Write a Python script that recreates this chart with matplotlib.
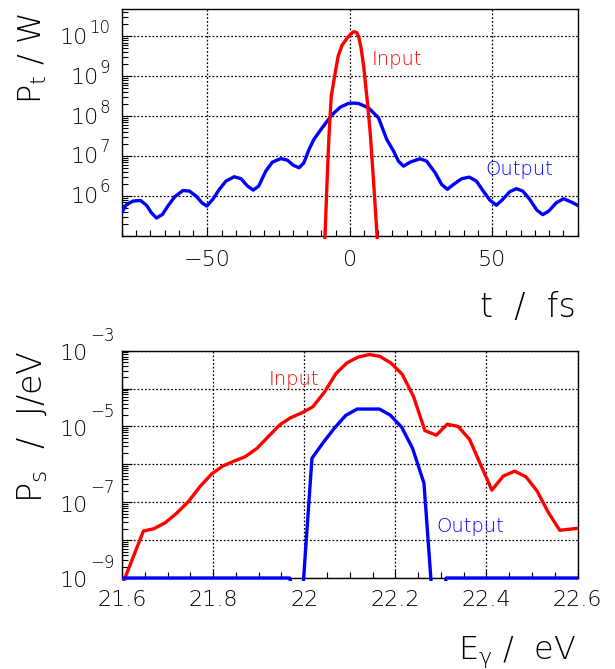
"""Input vs output pulse: temporal power and spectral density (log scale)."""
import numpy as np
import matplotlib
matplotlib.use("Agg")
import matplotlib.pyplot as plt
from matplotlib.patches import Rectangle
from matplotlib.ticker import FuncFormatter, LogLocator, MultipleLocator, NullFormatter
from matplotlib.transforms import ScaledTranslation

FONT = "DejaVu Sans"
WEIGHT = 250
RED = "#ff0000"
BLUE = "#0000ff"

# time domain: t in fs, log10 of power in W
T_OUT = [-80.0, -78.4, -76.1, -73.5, -71.4, -69.7, -67.9, -65.8, -63.9, -61.5,
         -58.6, -56.3, -54.0, -51.9, -50.2, -48.1, -45.8, -43.5, -40.6, -38.2,
         -35.9, -33.9, -32.0, -29.5, -27.2, -24.2, -21.9, -19.9, -17.8, -16.1,
         -14.3, -12.6, -9.7, -6.2, -3.3, -0.5, 1.5, 3.1, 6.6, 10.1,
         13.0, 15.4, 17.1, 18.9, 21.2, 24.7, 27.0, 30.0, 32.3, 34.3,
         36.4, 39.3, 42.0, 44.5, 46.9, 49.2, 51.5, 53.8, 56.2, 58.5,
         60.8, 63.2, 65.7, 67.8, 69.9, 72.5, 75.1, 78.3, 80.0]
LOGP_OUT = [5.60, 5.79, 5.875, 5.89, 5.77, 5.585, 5.45, 5.54, 5.75, 5.98,
            6.14, 6.125, 6.00, 5.83, 5.75, 5.92, 6.17, 6.375, 6.485, 6.435,
            6.25, 6.15, 6.25, 6.625, 6.85, 6.94, 6.90, 6.775, 6.71, 6.835,
            7.17, 7.42, 7.71, 8.04, 8.23, 8.32, 8.33, 8.32, 8.21, 7.96,
            7.42, 7.125, 6.875, 6.75, 6.85, 6.935, 6.875, 6.585, 6.29, 6.17,
            6.29, 6.435, 6.475, 6.375, 6.125, 5.90, 5.77, 5.92, 6.11, 6.185,
            6.125, 5.92, 5.65, 5.535, 5.625, 5.83, 5.935, 5.835, 5.77]
T_IN = [-9.0, -8.7, -8.0, -7.3, -6.5, -5.2, -4.1, -2.7, -1.0, 0.5,
        1.4, 2.4, 3.1, 4.0, 4.9, 6.1, 7.2, 8.4, 9.6, 10.0]
LOGP_IN = [4.5, 5.0, 6.3, 7.5, 8.5, 9.05, 9.5, 9.78, 9.95, 10.07,
           10.12, 10.1, 10.0, 9.7, 9.25, 8.42, 7.58, 6.33, 5.0, 4.5]

# spectral domain: photon energy in eV, log10 of J/eV
E_IN = [21.600, 21.647, 21.670, 21.695, 21.720, 21.746, 21.771, 21.797, 21.822, 21.847,
        21.870, 21.896, 21.921, 21.946, 21.970, 21.995, 22.019, 22.044, 22.070, 22.094,
        22.118, 22.143, 22.166, 22.190, 22.215, 22.240, 22.265, 22.290, 22.314, 22.338,
        22.363, 22.387, 22.412, 22.437, 22.462, 22.487, 22.511, 22.536, 22.561, 22.600]
LOGS_IN = [-9.20, -7.76, -7.70, -7.54, -7.29, -6.98, -6.59, -6.25, -6.04, -5.91,
           -5.80, -5.58, -5.27, -4.96, -4.77, -4.64, -4.48, -4.10, -3.60, -3.32,
           -3.17, -3.10, -3.15, -3.32, -3.62, -4.21, -5.11, -5.23, -4.94, -5.00,
           -5.34, -6.00, -6.68, -6.31, -6.18, -6.33, -6.70, -7.27, -7.74, -7.69]
E_OUT = [21.600, 21.968, 21.993, 22.017, 22.042, 22.066, 22.091, 22.116, 22.140,
         22.165, 22.189, 22.214, 22.238, 22.263, 22.287, 22.312, 22.600]
LOGS_OUT = [-9.0, -9.0, -10.0, -5.84, -5.42, -5.05, -4.71, -4.54, -4.54,
            -4.54, -4.70, -5.02, -5.58, -6.50, -10.5, -9.0, -9.0]

TOP_EXPONENTS = [6, 7, 8, 9, 10]
BOTTOM_EXPONENTS = [-3, -5, -7, -9]

plt.rcParams.update({
    "font.family": FONT,
    "font.weight": WEIGHT,
    "mathtext.fontset": "dejavusans",
})

W_PX, H_PX = 615, 669
fig = plt.figure(figsize=(W_PX / 100, H_PX / 100), dpi=100)


def px_box(left, top, right, bottom):
    return [left / W_PX, 1 - bottom / H_PX, (right - left) / W_PX, (bottom - top) / H_PX]


def style(ax, xmajor, xminor, xpad):
    ax.set_yscale("log")
    ax.yaxis.set_major_locator(LogLocator(base=10, numticks=30))
    ax.yaxis.set_minor_locator(LogLocator(base=10, subs=np.arange(2, 10), numticks=300))
    ax.yaxis.set_minor_formatter(NullFormatter())
    ax.xaxis.set_major_locator(MultipleLocator(xmajor))
    ax.xaxis.set_minor_locator(MultipleLocator(xminor))
    ax.tick_params(which="both", direction="in", top=False, right=False, width=0.8)
    ax.tick_params(axis="y", which="major", length=7.2, labelleft=False)
    ax.tick_params(axis="y", which="minor", length=4.5)
    ax.tick_params(axis="x", which="major", length=6, labelsize=16, pad=xpad)
    ax.tick_params(axis="x", which="minor", length=4)
    ax.grid(True, which="major", color="black", linestyle=(0, (1.4, 1.6)), linewidth=0.9)
    for s in ax.spines.values():
        s.set_linewidth(1.0)


def draw(ax, x, logy, color):
    line, = ax.plot(x, 10.0 ** np.asarray(logy), color=color, lw=2.4, zorder=3,
                    solid_joinstyle="round")
    # let the curve sit on the lower frame line instead of being half cut
    line.set_clip_path(Rectangle((0, -0.012), 1, 1.012, transform=ax.transAxes))


def decade_labels(ax, exps, exp_right, gap, base_dy, exp_dy):
    r = fig.canvas.get_renderer()
    ytr = ax.get_yaxis_transform()
    ax_left = ax.transAxes.transform((0, 0))[0]
    for k in exps:
        et = ax.text(0, 10.0 ** k, str(k).replace("-", "\u2212"),
                     transform=ytr + ScaledTranslation(-exp_right / 100, exp_dy / 100, fig.dpi_scale_trans),
                     ha="right", va="baseline", fontsize=12, clip_on=False)
        x0 = et.get_window_extent(r).x0
        dx = x0 - gap - ax_left
        ax.text(0, 10.0 ** k, "10",
                transform=ytr + ScaledTranslation(dx / 100, base_dy / 100, fig.dpi_scale_trans),
                ha="right", va="baseline", fontsize=16, clip_on=False)


# ---- top: temporal power ----
ax1 = fig.add_axes(px_box(122, 9.3, 577.5, 236))
style(ax1, 50, 5, 10)
draw(ax1, T_OUT, LOGP_OUT, BLUE)
draw(ax1, T_IN, LOGP_IN, RED)
ax1.set_xlim(-80, 80)
ax1.set_ylim(1e5, 10 ** 10.68)
ax1.text(7.7, 10 ** 9.29, "Input", color=RED, fontsize=14)
ax1.text(47.8, 10 ** 6.525, "Output", color=BLUE, fontsize=14)
decade_labels(ax1, TOP_EXPONENTS, exp_right=12, gap=1, base_dy=-7.3, exp_dy=3.7)

# ---- bottom: spectral density ----
ax2 = fig.add_axes(px_box(122, 350.7, 577.5, 578))
style(ax2, 0.2, 0.05, 8.6)
draw(ax2, E_IN, LOGS_IN, RED)
draw(ax2, E_OUT, LOGS_OUT, BLUE)
ax2.set_xlim(21.6, 22.6)
ax2.set_ylim(1e-9, 1e-3)
ax2.xaxis.set_major_formatter(FuncFormatter(lambda v, p: f"{v:g}"))
ax2.text(21.9215, 10 ** -3.905, "Input", color=RED, fontsize=14)
ax2.text(22.29, 10 ** -7.776, "Output", color=BLUE, fontsize=14)
decade_labels(ax2, BOTTOM_EXPONENTS, exp_right=7, gap=3, base_dy=-9.3, exp_dy=9.7)

# axis titles, ROOT style: flush with the axis ends
fig.text(42 / W_PX, 1 - 13 / H_PX, r"$\mathregular{P_{t}}$ / W", rotation=90,
         rotation_mode="anchor", ha="right", va="baseline", fontsize=23)
fig.text(42 / W_PX, 1 - 350 / H_PX, r"$\mathregular{P_{s}}$  /  J/eV", rotation=90,
         rotation_mode="anchor", ha="right", va="baseline", fontsize=24)
fig.text(576 / W_PX, 1 - 316.7 / H_PX, "t  /  fs", ha="right", va="baseline", fontsize=24)
fig.text(577 / W_PX, 1 - 658.3 / H_PX, r"$\mathregular{E_{γ}}$ /  eV", ha="right",
         va="baseline", fontsize=23)

fig.savefig("out.png", dpi=100)
